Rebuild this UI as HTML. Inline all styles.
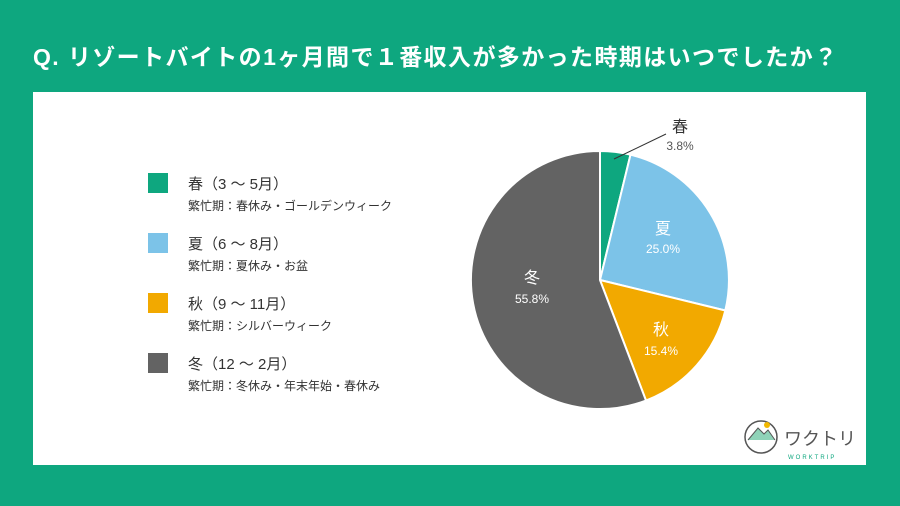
<!DOCTYPE html>
<html><head><meta charset="utf-8"><style>
body{margin:0;width:900px;height:506px;background:#0ea77f;position:relative;overflow:hidden;font-family:"Liberation Sans","Noto Sans CJK JP",sans-serif}
.title{position:absolute;left:33px;top:38px;color:#fff;font-size:23px;font-weight:bold;white-space:nowrap;letter-spacing:1.4px}
.panel{position:absolute;left:33px;top:92px;width:833px;height:373px;background:#fff}
.sq{position:absolute;left:148px;width:20px;height:20px}
.lt{position:absolute;left:188px;font-size:15px;color:#333;white-space:nowrap}
.ls{position:absolute;left:188px;font-size:12px;color:#333;white-space:nowrap}
</style></head><body>
<div class="title">Q. リゾートバイトの1ヶ月間で１番収入が多かった時期はいつでしたか？</div>
<div class="panel"></div>
<div class="sq" style="top:173px;background:#0ea77f"></div>
<div class="lt" style="top:173px">春（3 ～ 5月）</div><div class="ls" style="top:197px">繁忙期：春休み・ゴールデンウィーク</div>
<div class="sq" style="top:233px;background:#7cc3e8"></div>
<div class="lt" style="top:233px">夏（6 ～ 8月）</div><div class="ls" style="top:257px">繁忙期：夏休み・お盆</div>
<div class="sq" style="top:293px;background:#f2a900"></div>
<div class="lt" style="top:293px">秋（9 ～ 11月）</div><div class="ls" style="top:317px">繁忙期：シルバーウィーク</div>
<div class="sq" style="top:353px;background:#636363"></div>
<div class="lt" style="top:353px">冬（12 ～ 2月）</div><div class="ls" style="top:377px">繁忙期：冬休み・年末年始・春休み</div>
<svg width="900" height="506" style="position:absolute;left:0;top:0" font-family="Liberation Sans, Noto Sans CJK JP, sans-serif">
<g stroke="#fff" stroke-width="2">
<path d="M600,280 L600,151 A129,129 0 0 1 630.5,154.7 Z" fill="#0ea77f"/>
<path d="M600,280 L630.5,154.7 A129,129 0 0 1 725.3,310.5 Z" fill="#7cc3e8"/>
<path d="M600,280 L725.3,310.5 A129,129 0 0 1 646,400.5 Z" fill="#f2a900"/>
<path d="M600,280 L646,400.5 A129,129 0 1 1 600,151 Z" fill="#636363"/>
</g>
<line x1="614" y1="159" x2="666" y2="134" stroke="#333" stroke-width="1"/>
<g text-anchor="middle">
<text x="680" y="132" font-size="16" fill="#333">春</text>
<text x="680" y="150" font-size="12" fill="#555">3.8%</text>
<text x="663" y="234" font-size="16" fill="#fff">夏</text>
<text x="663" y="253" font-size="12" fill="#fff">25.0%</text>
<text x="661" y="335" font-size="16" fill="#fff">秋</text>
<text x="661" y="355" font-size="12" fill="#fff">15.4%</text>
<text x="532" y="283" font-size="16" fill="#fff">冬</text>
<text x="532" y="303" font-size="12" fill="#fff">55.8%</text>
</g>
<circle cx="761" cy="437" r="16" fill="none" stroke="#555" stroke-width="1.5"/>
<path d="M748,440 L758,428 L764,434 L768,430 L775,440" fill="#8fd3b8" stroke="#555" stroke-width="1"/>
<circle cx="767" cy="425" r="3" fill="#f2b800"/>
<text x="784" y="445" font-size="18" fill="#555" textLength="72">ワクトリ</text>
<text x="788" y="459" font-size="6" fill="#0ea77f" letter-spacing="2">WORKTRIP</text>
</svg>
</body></html>
